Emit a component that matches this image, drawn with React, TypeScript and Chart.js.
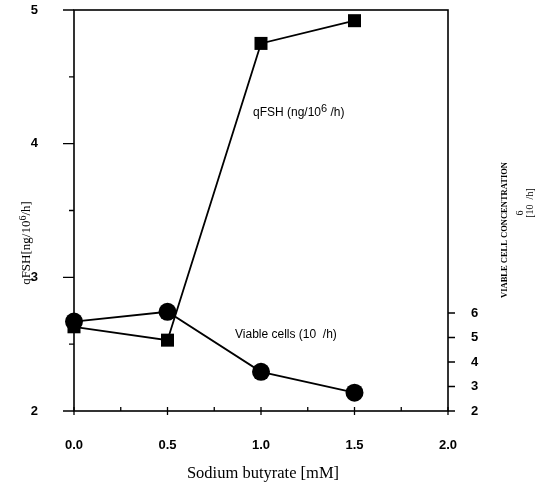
import { useEffect, useRef } from 'react';
import { Chart, registerables } from 'chart.js';
Chart.register(...registerables);

const butyrate = [0, 0.5, 1.0, 1.5];
const qFSH = [2.63, 2.53, 4.75, 4.92];
const viableCells = [5.65, 6.05, 3.6, 2.75];
const xTickValues = [0, 0.5, 1.0, 1.5, 2.0];
const xMinorTicks = [0.25, 0.75, 1.25, 1.75];
const leftTickValues = [2, 3, 4, 5];
const leftMinorTicks = [2.5, 3.5, 4.5];
const rightTickValues = [2, 3, 4, 5, 6];

const xTitle = 'Sodium butyrate [mM]';
const leftTitle = ['qFSH[ng/10', '6', '/h]'];
const rightTitle = 'VIABLE CELL CONCENTRATION';
const rightUnit = '[10  /h]';
const qfshLabel = ['qFSH (ng/10', '6', ' /h)'];
const cellsLabel = 'Viable cells (10  /h)';

const tickFont = { family: '"Liberation Sans", Arial, sans-serif', size: 13, weight: 'bold' as const };

const decorPlugin = {
  id: 'decor',
  afterDraw(chart: any) {
    const { ctx, chartArea: a, scales } = chart;
    const x = scales.x, y = scales.y, y1 = scales.y1;
    ctx.save();
    ctx.strokeStyle = '#000';
    ctx.fillStyle = '#000';
    ctx.lineWidth = 1.6;
    ctx.strokeRect(a.left, a.top, a.right - a.left, a.bottom - a.top);
    ctx.lineWidth = 1.3;
    ctx.beginPath();
    leftTickValues.forEach((v) => { const p = y.getPixelForValue(v); ctx.moveTo(a.left - 11, p); ctx.lineTo(a.left, p); });
    leftMinorTicks.forEach((v) => { const p = y.getPixelForValue(v); ctx.moveTo(a.left - 5, p); ctx.lineTo(a.left, p); });
    rightTickValues.forEach((v) => { const p = y1.getPixelForValue(v); ctx.moveTo(a.right, p); ctx.lineTo(a.right + 7, p); });
    xTickValues.forEach((v) => { const p = x.getPixelForValue(v); ctx.moveTo(p, a.bottom - 4); ctx.lineTo(p, a.bottom + 4); });
    xMinorTicks.forEach((v) => { const p = x.getPixelForValue(v); ctx.moveTo(p, a.bottom - 4); ctx.lineTo(p, a.bottom); });
    ctx.stroke();

    // x title
    ctx.font = '16.5px "Liberation Serif", serif';
    ctx.textAlign = 'center';
    ctx.textBaseline = 'middle';
    ctx.fillText(xTitle, 263, 474);

    // left title (rotated, with superscript)
    ctx.save();
    ctx.translate(27, 243);
    ctx.rotate(-Math.PI / 2);
    ctx.textAlign = 'left';
    const big = '13px "Liberation Serif", serif';
    const small = '10px "Liberation Serif", serif';
    ctx.font = big;
    const w0 = ctx.measureText(leftTitle[0]).width;
    const w2 = ctx.measureText(leftTitle[2]).width;
    ctx.font = small;
    const w1 = ctx.measureText(leftTitle[1]).width;
    let lx = -(w0 + w1 + w2) / 2;
    ctx.font = big;
    ctx.fillText(leftTitle[0], lx, 0);
    lx += w0;
    ctx.font = small;
    ctx.fillText(leftTitle[1], lx, -4);
    lx += w1;
    ctx.font = big;
    ctx.fillText(leftTitle[2], lx, 0);
    ctx.restore();

    // right title
    ctx.save();
    ctx.translate(505, 230);
    ctx.rotate(-Math.PI / 2);
    ctx.textAlign = 'center';
    ctx.font = 'bold 8.5px "Liberation Serif", serif';
    ctx.fillText(rightTitle, 0, 0);
    ctx.font = '10px "Liberation Serif", serif';
    ctx.fillText(rightUnit, 27, 25);
    ctx.fillText('6', 17, 15);
    ctx.restore();

    // annotations
    ctx.textAlign = 'left';
    ctx.font = '12px "Liberation Sans", Arial, sans-serif';
    let tx = 253;
    ctx.fillText(qfshLabel[0], tx, 113);
    tx += ctx.measureText(qfshLabel[0]).width;
    ctx.font = '11px "Liberation Sans", Arial, sans-serif';
    ctx.fillText(qfshLabel[1], tx, 109);
    tx += ctx.measureText(qfshLabel[1]).width;
    ctx.font = '12px "Liberation Sans", Arial, sans-serif';
    ctx.fillText(qfshLabel[2], tx, 113);
    ctx.fillText(cellsLabel, 235, 335);
    ctx.restore();
  },
};

export default function App() {
  const ref = useRef<HTMLCanvasElement>(null);
  useEffect(() => {
    const chart = new Chart(ref.current!, {
      type: 'scatter',
      data: {
        datasets: [
          {
            label: 'Viable cells',
            data: butyrate.map((b, i) => ({ x: b, y: viableCells[i] })),
            yAxisID: 'y1',
            showLine: true,
            borderColor: '#000',
            backgroundColor: '#000',
            borderWidth: 1.8,
            pointStyle: 'circle',
            pointRadius: 9,
            pointBorderWidth: 0,
            clip: false,
          },
          {
            label: 'qFSH',
            data: butyrate.map((b, i) => ({ x: b, y: qFSH[i] })),
            yAxisID: 'y',
            showLine: true,
            borderColor: '#000',
            backgroundColor: '#000',
            borderWidth: 1.8,
            pointStyle: 'rect',
            pointRadius: 9.2,
            pointBorderWidth: 0,
            clip: false,
          },
        ],
      },
      options: {
        animation: false,
        responsive: false,
        layout: { autoPadding: false, padding: { top: 10, left: 0, right: 0, bottom: 0 } },
        plugins: { legend: { display: false }, tooltip: { enabled: false } },
        scales: {
          x: {
            type: 'linear',
            min: 0,
            max: 2,
            grid: { display: false },
            border: { display: false },
            afterBuildTicks: (s: any) => { s.ticks = xTickValues.map((v) => ({ value: v })); },
            ticks: { color: '#000', font: tickFont, padding: 19, maxRotation: 0, callback: (v: any) => Number(v).toFixed(1) },
            afterFit: (s: any) => { s.height = 77; s.paddingLeft = 0; s.paddingRight = 0; },
          },
          y: {
            type: 'linear',
            position: 'left',
            min: 2,
            max: 5,
            grid: { display: false },
            border: { display: false },
            afterBuildTicks: (s: any) => { s.ticks = leftTickValues.map((v) => ({ value: v })); },
            ticks: { color: '#000', font: tickFont, padding: 28 },
            afterFit: (s: any) => { s.width = 74; s.paddingTop = 0; s.paddingBottom = 0; },
          },
          y1: {
            type: 'linear',
            position: 'right',
            min: 2,
            max: 18.37,
            grid: { display: false },
            border: { display: false },
            afterBuildTicks: (s: any) => { s.ticks = rightTickValues.map((v) => ({ value: v })); },
            ticks: { color: '#000', font: tickFont, padding: 15 },
            afterFit: (s: any) => { s.width = 87; s.paddingTop = 0; s.paddingBottom = 0; },
          },
        },
      },
      plugins: [decorPlugin],
    });
    return () => chart.destroy();
  }, []);
  return (
    <div style={{ position: 'fixed', left: 0, top: 0, width: 535, height: 488, background: '#fff' }}>
      <canvas ref={ref} width={535} height={488} />
    </div>
  );
}
